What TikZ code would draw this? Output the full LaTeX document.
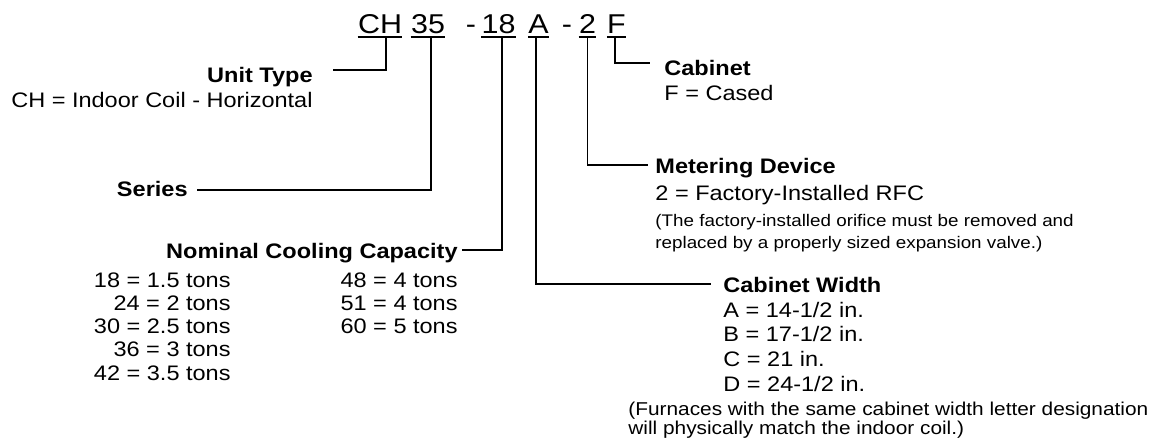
\documentclass[tikz,border=0pt]{standalone}
\usepackage{fontspec}
\setmainfont{Liberation Sans}[FakeStretch=1.12]
\usepackage{tikz}

\tikzset{
  code/.style={font=\fontsize{13.6}{15}\selectfont, inner sep=0pt, anchor=base},
  head/.style={font=\fontsize{10.5}{12}\selectfont\bfseries, inner sep=0pt},
  item/.style={font=\fontsize{10.5}{12}\selectfont, inner sep=0pt},
  note/.style={font=\fontsize{8.4}{10}\selectfont, inner sep=0pt, anchor=base west},
  lead/.style={line width=0.9pt},
}

\begin{document}
\begin{tikzpicture}[x=0.5pt,y=-0.5pt]
    \useasboundingbox (0,0) rectangle (1155,445);
    % model number
    \node[code] (codeCH) at (380,33) {CH};
    \node[code] (code35) at (428,33) {35};
    \node[code] (dash1) at (471,33) {-};
    \node[code] (code18) at (498.5,33) {18};
    \node[code] (codeA) at (538.5,33) {A};
    \node[code] (dash2) at (567,33) {-};
    \node[code] (code2) at (587.5,33) {2};
    \node[code] (codeF) at (616.5,33) {F};
    \foreach \c in {CH,35,18,A,2,F}
      \draw[lead] ([yshift=-2pt]code\c.base west) -- ([yshift=-2pt]code\c.base east);

    % unit type
    \node[head, anchor=base east] (unit) at (313,82) {Unit Type};
    \node[item, anchor=base east] (unitCH) at (313,107.5) {CH = Indoor Coil - Horizontal};
    % series
    \node[head, anchor=base east] (series) at (188,196) {Series};
    % capacity
    \node[head, anchor=base east] (nominal) at (458,258) {Nominal Cooling Capacity};
    \foreach \txt [count=\i from 0] in {18 = 1.5 tons, 24 = 2 tons, 30 = 2.5 tons, 36 = 3 tons, 42 = 3.5 tons}
      \node[item, anchor=base east] (capL\i) at (231,287+23.3*\i) {\txt};
    \foreach \txt [count=\i from 0] in {48 = 4 tons, 51 = 4 tons, 60 = 5 tons}
      \node[item, anchor=base east] (capR\i) at (458,287+23.3*\i) {\txt};
    % cabinet width
    \node[head, anchor=base west] (width) at (723,292.7) {Cabinet Width};
    \foreach \txt [count=\i] in {A = 14-1/2 in., B = 17-1/2 in., C = 21 in., D = 24-1/2 in.}
      \node[item, anchor=base west] (widthL\i) at (723,292.7+24.6*\i) {\txt};
    \node[note, font=\fontsize{9.3}{10}\selectfont] (furn1) at (628,415) {(Furnaces with the same cabinet width letter designation};
    \node[note, font=\fontsize{9.3}{10}\selectfont] (furn2) at (628,434) {will physically match the indoor coil.)};
    % metering device
    \node[head, anchor=base west] (meter) at (655,173.3) {Metering Device};
    \node[item, anchor=base west] (meterRFC) at (655,200.5) {2 = Factory-Installed RFC};
    \node[note] (meter1) at (655,226.5) {(The factory-installed orifice must be removed and};
    \node[note] (meter2) at (655,248) {replaced by a properly sized expansion valve.)};
    % cabinet
    \node[head, anchor=base west] (cabinet) at (664,75) {Cabinet};
    \node[item, anchor=base west] (cased) at (664,100) {F = Cased};

    % leaders
    \coordinate (endCH) at (333,70);
    \coordinate (end35) at (197,190);
    \coordinate (end18) at (462,250);
    \coordinate (endA) at (711,284);
    \coordinate (end2) at (648,165);
    \coordinate (endF) at (650,63);
    \draw[lead] ([xshift=3pt,yshift=-2pt]codeCH.base) |- (endCH);
    \draw[lead] ([xshift=1.5pt,yshift=-2pt]code35.base) |- (end35);
    \draw[lead] ([xshift=1.75pt,yshift=-2pt]code18.base) |- (end18);
    \draw[lead] ([xshift=-1.25pt,yshift=-2pt]codeA.base) |- (endA);
    \draw[lead] ([yshift=-2pt]code2.base) |- (end2);
    \draw[lead] ([xshift=-0.75pt,yshift=-2pt]codeF.base) |- (endF);
\end{tikzpicture}
\end{document}
